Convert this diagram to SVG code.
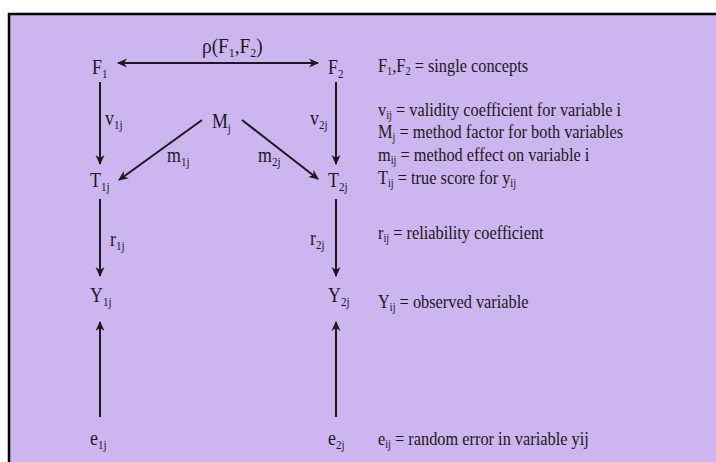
<svg xmlns="http://www.w3.org/2000/svg" width="716" height="462" viewBox="0 0 716 462" font-family="'Liberation Serif','Times New Roman',serif">
<defs>
<style>
.n{font-family:'Liberation Serif','Times New Roman',serif;font-size:21px;fill:#1a1a1a}
.d{font-family:'Liberation Serif','Times New Roman',serif;font-size:19px;fill:#1a1a1a}
.s{font-size:13px}
.t{font-size:12px}
.e{stroke:#1a1a1a;stroke-width:2;fill:none;marker-end:url(#ah)}
</style>
<marker id="ah" viewBox="0 0 10 10" refX="9" refY="5" markerWidth="10" markerHeight="10" markerUnits="userSpaceOnUse" orient="auto-start-reverse">
<path d="M0,0.5 L10,5 L0,9.5 L3,5 Z" fill="#1a1a1a"/>
</marker>
</defs>
<rect width="716" height="462" fill="#ffffff"/>
<rect x="9" y="14" width="707" height="448" fill="#cdb5ef"/>
<path d="M9,462 V14 H716" stroke="#000" stroke-width="2.5" fill="none"/>

<g id="connectors">
<line class="e" x1="118" y1="63" x2="318" y2="63" style="marker-start:url(#ah)"/>
<line class="e" x1="100" y1="82" x2="100" y2="164"/>
<line class="e" x1="336" y1="82" x2="336" y2="164"/>
<line class="e" x1="202" y1="120" x2="119" y2="180"/>
<line class="e" x1="242" y1="120" x2="318" y2="179"/>
<line class="e" x1="100" y1="199" x2="100" y2="276"/>
<line class="e" x1="336" y1="199" x2="336" y2="276"/>
<line class="e" x1="100" y1="417" x2="100" y2="322"/>
<line class="e" x1="336" y1="417" x2="336" y2="322"/>
<text class="n" transform="translate(202,53) scale(0.92,1)">ρ(F<tspan class="s" dy="4">1</tspan><tspan dy="-4">,F</tspan><tspan class="s" dy="4">2</tspan><tspan dy="-4">)</tspan></text>
<text class="n" transform="translate(105,125) scale(0.85,1)">v<tspan class="s" dy="4">1j</tspan></text>
<text class="n" transform="translate(310,125) scale(0.85,1)">v<tspan class="s" dy="4">2j</tspan></text>
<text class="n" transform="translate(167,162) scale(0.85,1)">m<tspan class="s" dy="4">1j</tspan></text>
<text class="n" transform="translate(258,162) scale(0.85,1)">m<tspan class="s" dy="4">2j</tspan></text>
<text class="n" transform="translate(110,246) scale(0.85,1)">r<tspan class="s" dy="4">1j</tspan></text>
<text class="n" transform="translate(310,245) scale(0.85,1)">r<tspan class="s" dy="4">2j</tspan></text>
</g>

<g id="F1"><text class="n" transform="translate(92,74) scale(0.85,1)">F<tspan class="s" dy="4">1</tspan></text></g>
<g id="F2"><text class="n" transform="translate(328,74) scale(0.85,1)">F<tspan class="s" dy="4">2</tspan></text></g>
<g id="Mj"><text class="n" transform="translate(212,128) scale(0.85,1)">M<tspan class="s" dy="4">j</tspan></text></g>
<g id="T1j"><text class="n" transform="translate(90,187) scale(0.85,1)">T<tspan class="s" dy="4">1j</tspan></text></g>
<g id="T2j"><text class="n" transform="translate(328,187) scale(0.85,1)">T<tspan class="s" dy="4">2j</tspan></text></g>
<g id="Y1j"><text class="n" transform="translate(90,302) scale(0.85,1)">Y<tspan class="s" dy="4">1j</tspan></text></g>
<g id="Y2j"><text class="n" transform="translate(328,302) scale(0.85,1)">Y<tspan class="s" dy="4">2j</tspan></text></g>
<g id="e1j"><text class="n" transform="translate(90,445) scale(0.85,1)">e<tspan class="s" dy="4">1j</tspan></text></g>
<g id="e2j"><text class="n" transform="translate(328,445) scale(0.85,1)">e<tspan class="s" dy="4">2j</tspan></text></g>

<g id="legend">
<text class="d" transform="translate(378,72) scale(0.86,1)">F<tspan class="t" dy="3">1</tspan><tspan dy="-3">,F</tspan><tspan class="t" dy="3">2</tspan><tspan dy="-3"> = single concepts</tspan></text>
<text class="d" transform="translate(378,116) scale(0.86,1)">v<tspan class="t" dy="3">ij</tspan><tspan dy="-3"> = validity coefficient for variable i</tspan></text>
<text class="d" transform="translate(378,138) scale(0.86,1)">M<tspan class="t" dy="3">j</tspan><tspan dy="-3"> = method factor for both variables</tspan></text>
<text class="d" transform="translate(378,161) scale(0.86,1)">m<tspan class="t" dy="3">ij</tspan><tspan dy="-3"> = method effect on variable i</tspan></text>
<text class="d" transform="translate(378,184) scale(0.86,1)">T<tspan class="t" dy="3">ij</tspan><tspan dy="-3"> = true score for y</tspan><tspan class="t" dy="3">ij</tspan></text>
<text class="d" transform="translate(378,239) scale(0.86,1)">r<tspan class="t" dy="3">ij</tspan><tspan dy="-3"> = reliability coefficient</tspan></text>
<text class="d" transform="translate(378,308) scale(0.86,1)">Y<tspan class="t" dy="3">ij</tspan><tspan dy="-3"> = observed variable</tspan></text>
<text class="d" transform="translate(378,445) scale(0.86,1)">e<tspan class="t" dy="3">ij</tspan><tspan dy="-3"> = random error in variable yij</tspan></text>
</g>
</svg>
